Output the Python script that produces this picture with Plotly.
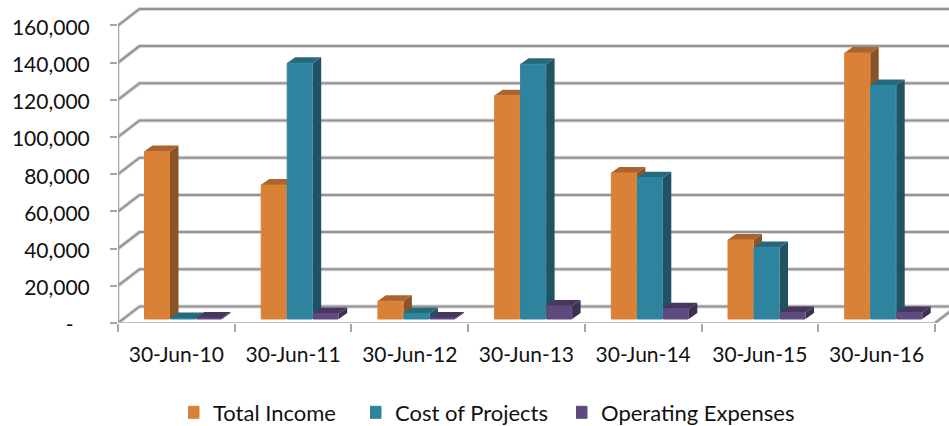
import plotly.graph_objects as go

categories = ["30-Jun-10", "30-Jun-11", "30-Jun-12", "30-Jun-13", "30-Jun-14", "30-Jun-15", "30-Jun-16"]
total_income = [90000, 72000, 9500, 120000, 78500, 42500, 143000]
cost_of_projects = [300, 137500, 3000, 137000, 76000, 38500, 125500]
operating_expenses = [500, 3000, 500, 7000, 5500, 3500, 3500]
y_ticks = [0, 20000, 40000, 60000, 80000, 100000, 120000, 140000, 160000]
y_labels = ["-\u00a0\u00a0\u00a0", "20,000", "40,000", "60,000", "80,000", "100,000", "120,000", "140,000", "160,000"]

W, H = 949, 426
L, R, T, B = 118, 0, 5, 103
PX_X = 116.7
PX_Y = 37.2 / 20000
xmax = (W - L - R) / PX_X
ymax = (H - T - B) / PX_Y

def dxu(px): return px / PX_X
def dyu(px): return px / PX_Y

WALL_DX, WALL_DY = dxu(21.5), dyu(16.5)
BAR_W, BAR_DX, BAR_DY, BAR_BASE = dxu(26), dxu(8.5), dyu(6), dyu(4)
BAR_START = dxu(26)
n = len(categories)

series = [
    ("Total Income", total_income, "#DA8138", "#8A5327", "#A9652D", 188),
    ("Cost of Projects", cost_of_projects, "#2E849E", "#1F5363", "#27697C", 370),
    ("Operating Expenses", operating_expenses, "#5F4A80", "#3F3053", "#47365E", 576),
]

fig = go.Figure()

# walls: back gridlines, side wall diagonals, floor
GRID = "#949494"
gx, gy = [], []
for v in y_ticks:
    gx += [0, WALL_DX, xmax + 1, None]
    gy += [v, v + WALL_DY, v + WALL_DY, None]
gx += [n, n + WALL_DX, None]
gy += [0, WALL_DY, None]
fig.add_trace(go.Scatter(x=gx, y=gy, mode="lines", line=dict(color="#D8D8D8", width=4), hoverinfo="skip",
                         showlegend=False, zorder=-3))
fig.add_trace(go.Scatter(x=gx, y=gy, mode="lines", line=dict(color=GRID, width=2), hoverinfo="skip",
                         showlegend=False, zorder=-2))
fig.add_trace(go.Scatter(x=[0, 0], y=[0, y_ticks[-1]], mode="lines", line=dict(color="#A6A6A6", width=2.5),
                         hoverinfo="skip", showlegend=False, cliponaxis=False, zorder=-1))
fig.add_trace(go.Scatter(x=[0, n], y=[0, 0], mode="lines", line=dict(color="#BDBDBD", width=2),
                         hoverinfo="skip", showlegend=False, cliponaxis=False, zorder=-1))

for s, (name, vals, front, side, top, _) in enumerate(series):
    sx, sy, tx, ty = [], [], [], []
    for i, v in enumerate(vals):
        x0 = i + BAR_START + s * BAR_W
        x1 = x0 + BAR_W
        y1 = BAR_BASE + v
        sx += [x1, x1 + BAR_DX, x1 + BAR_DX, x1, x1, None]
        sy += [BAR_BASE, BAR_BASE + BAR_DY, y1 + BAR_DY, y1, BAR_BASE, None]
        tx += [x0, x0 + BAR_DX, x1 + BAR_DX, x1, x0, None]
        ty += [y1, y1 + BAR_DY, y1 + BAR_DY, y1, y1, None]
    for px, py, col in ((sx, sy, side), (tx, ty, top)):
        fig.add_trace(go.Scatter(x=px, y=py, mode="lines", fill="toself", fillcolor=col,
                                 line=dict(width=0, color=col), hoverinfo="skip",
                                 showlegend=False, zorder=2 * s))
    fig.add_trace(go.Bar(
        x=[i + BAR_START + s * BAR_W + BAR_W / 2 for i in range(n)],
        y=vals, base=BAR_BASE, width=BAR_W - dxu(1), name=name,
        marker=dict(color=front, line=dict(color=front, width=1)),
        legend="legend" if s == 0 else f"legend{s + 1}", zorder=2 * s + 1,
    ))

layout_legends = {}
for s, (name, *_rest) in enumerate(series):
    key = "legend" if s == 0 else f"legend{s + 1}"
    layout_legends[key] = dict(
        xref="container", yref="container", x=_rest[-1] / W, y=1 - 412.5 / H,
        xanchor="left", yanchor="middle", orientation="h", indentation=-15,
        bgcolor="rgba(0,0,0,0)", font=dict(family="Lato", size=22, color="#111111"),
        itemwidth=30,
    )

fig.update_layout(
    width=W, height=H, margin=dict(l=L, r=R, t=T, b=B),
    paper_bgcolor="white", plot_bgcolor="white", barmode="overlay",
    font=dict(family="Lato", size=21, color="#111111"),
    xaxis=dict(range=[0, xmax], tickvals=[i + 0.5 for i in range(n)], ticktext=categories,
               ticks="outside", ticklen=13, tickcolor="rgba(0,0,0,0)", showgrid=False, zeroline=False,
               showline=False, ticklabelposition="outside",
               minor=dict(tickvals=list(range(n + 1)), ticks="outside", ticklen=8, tickcolor="#A6A6A6",
                          tickwidth=2, showgrid=False)),
    yaxis=dict(range=[0, ymax], tickvals=y_ticks, ticktext=y_labels, ticks="outside", ticklen=7,
               tickcolor="#A6A6A6", tickwidth=2, showgrid=False, zeroline=False, showline=False,
               ticklabelstandoff=16, ticklabelshift=2),
    **layout_legends,
)

fig.write_html("out.html", config={"displayModeBar": False}, post_script="document.body.style.margin='0';")
